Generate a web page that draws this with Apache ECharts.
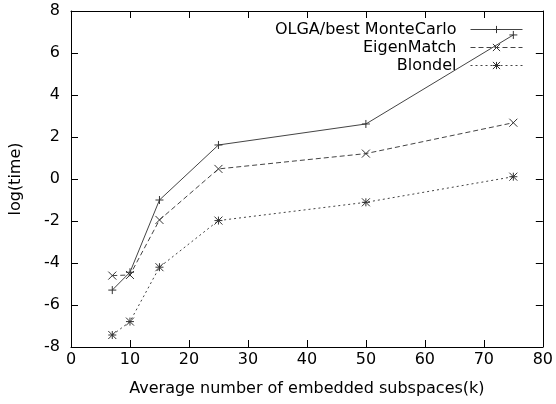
<!DOCTYPE html>
<html>
<head>
<meta charset="utf-8">
<script src="https://cdn.jsdelivr.net/npm/echarts@6/dist/echarts.min.js"></script>
<style>
  html, body { margin: 0; padding: 0; background: #fff; }
  #chart { width: 556px; height: 404px; }
</style>
</head>
<body>
<div id="chart"></div>
<script>
// Average number of embedded subspaces (k)
const kValues = [7, 10, 15, 25, 50, 75];
// log(time) per method
const olgaTimes = [-5.29, -4.44, -1.0, 1.62, 2.62, 6.86];
const eigenTimes = [-4.6, -4.57, -1.95, 0.48, 1.21, 2.68];
const blondelTimes = [-7.43, -6.79, -4.2, -1.98, -1.11, 0.11];
const seriesNames = ['OLGA/best MonteCarlo', 'EigenMatch', 'Blondel'];

const xTicks = { min: 0, max: 80, interval: 10 };
const yTicks = { min: -8, max: 8, interval: 2 };

const FONT = 'DejaVu Sans';
const INK = '#000';
const LINE = '#444';

const plusPath = 'path://M5,0L5,10M0,5L10,5';
const crossPath = 'path://M0,0L10,10M10,0L0,10';
const starPath = 'path://M0,0L10,10M10,0L0,10M5,0L5,10M0,5L10,5';

function pairs(ys) { return kValues.map((k, i) => [k, ys[i]]); }

function makeSeries(name, ys, symbol, dash) {
  return {
    name: name,
    type: 'line',
    data: pairs(ys),
    symbol: symbol,
    symbolSize: 8,
    showAllSymbol: true,
    xAxisIndex: 0,
    yAxisIndex: 0,
    lineStyle: { color: LINE, width: 1, type: dash },
    itemStyle: { color: 'none', borderColor: '#333', borderWidth: 1 },
    emphasis: { disabled: true },
    z: 3
  };
}

const axisLine = { show: true, onZero: false, lineStyle: { color: INK, width: 1 } };
const axisTick = { show: true, inside: true, length: 7, lineStyle: { color: INK, width: 1 } };
const labelStyle = { color: INK, fontFamily: FONT, fontSize: 16 };

const chart = echarts.init(document.getElementById('chart'), null, { renderer: 'canvas' });
chart.setOption({
  animation: false,
  backgroundColor: '#fff',
  grid: { left: 71, right: 11, top: 11, bottom: 57, containLabel: false },
  legend: {
    orient: 'vertical',
    right: 33,
    top: 21,
    align: 'right',
    itemWidth: 52,
    itemHeight: 9,
    itemGap: 1,
    padding: 0,
    data: seriesNames,
    lineStyle: { width: 1 },
    itemStyle: { borderWidth: 1 },
    textStyle: { color: INK, fontFamily: FONT, fontSize: 16, lineHeight: 17, padding: [0, 9, 0, 0] },
    selectedMode: false
  },
  xAxis: [
    {
      type: 'value', position: 'bottom', min: xTicks.min, max: xTicks.max, interval: xTicks.interval,
      name: 'Average number of embedded subspaces(k)', nameLocation: 'middle', nameGap: 34,
      nameTextStyle: { color: INK, fontFamily: FONT, fontSize: 16 },
      axisLine: axisLine, axisTick: axisTick,
      axisLabel: Object.assign({ margin: 5 }, labelStyle),
      splitLine: { show: false }
    },
    {
      type: 'value', position: 'top', min: xTicks.min, max: xTicks.max, interval: xTicks.interval,
      axisLine: axisLine, axisTick: axisTick, axisLabel: { show: false }, splitLine: { show: false }
    }
  ],
  yAxis: [
    {
      type: 'value', position: 'left', min: yTicks.min, max: yTicks.max, interval: yTicks.interval,
      name: 'log(time)', nameLocation: 'middle', nameGap: 47, nameRotate: 90,
      nameTextStyle: { color: INK, fontFamily: FONT, fontSize: 16 },
      axisLine: axisLine, axisTick: axisTick,
      axisLabel: Object.assign({ margin: 11 }, labelStyle),
      splitLine: { show: false }
    },
    {
      type: 'value', position: 'right', min: yTicks.min, max: yTicks.max, interval: yTicks.interval,
      axisLine: axisLine, axisTick: axisTick, axisLabel: { show: false }, splitLine: { show: false }
    }
  ],
  series: [
    makeSeries(seriesNames[0], olgaTimes, plusPath, 'solid'),
    makeSeries(seriesNames[1], eigenTimes, crossPath, [5, 3]),
    makeSeries(seriesNames[2], blondelTimes, starPath, [2, 3])
  ]
});
</script>
</body>
</html>
